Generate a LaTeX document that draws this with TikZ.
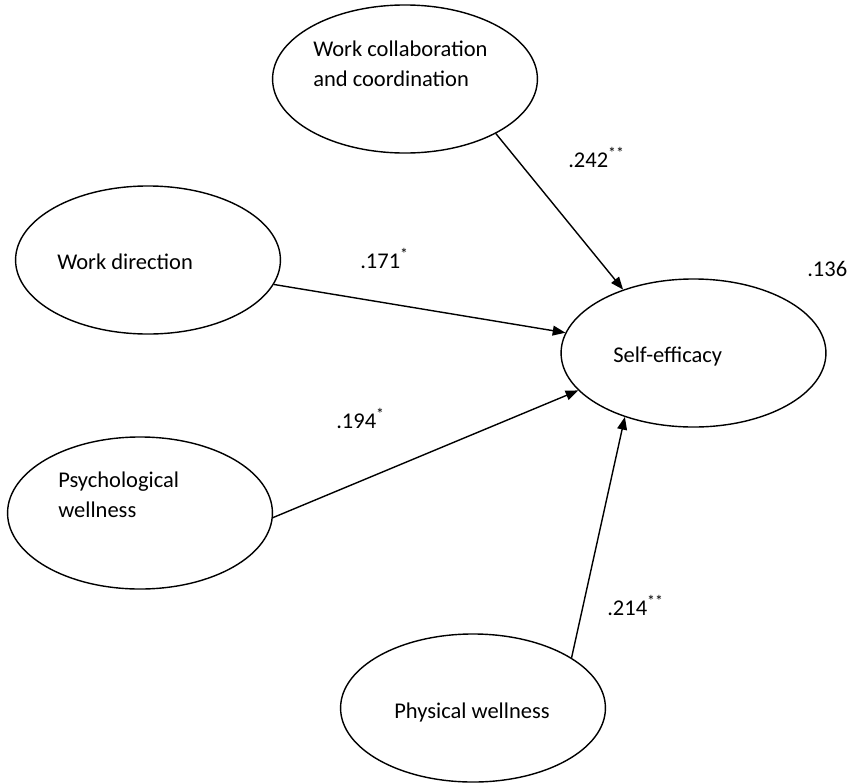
\documentclass[tikz,border=0pt]{standalone}
\usepackage{fontspec}
\setmainfont{Carlito}
\usetikzlibrary{shapes.geometric,arrows.meta}

\begin{document}
\begin{tikzpicture}[x=0.025cm,y=-0.025cm,
    var/.style={ellipse,draw,line width=1pt,minimum width=6.62cm,minimum height=3.7cm,inner sep=0pt},
    txt/.style={anchor=base west,inner sep=0pt,align=left,font=\fontsize{16}{21.3}\selectfont},
    coef/.style={anchor=base west,inner sep=0pt,font=\fontsize{16}{21.3}\selectfont},
    link/.style={line width=1pt,-{Triangle[length=9pt,width=7pt]}}]
      \useasboundingbox (0,0) rectangle (848,783);

      \node[var] (wc) at (405,79) {};
      \node[var] (wd) at (148,260) {};
      \node[var] (se) at (693.5,353) {};
      \node[var,minimum height=3.8cm] (ps) at (140,513) {};
      \node[var] (pw) at (473,708) {};

      % base of a two-line node sits on its last line
      \node[txt] (wctext) at (313,86) {Work collaboration\\and coordination};
      \node[txt] (wdtext) at (57,269) {Work direction};
      \node[txt] (setext) at (613,362) {Self-efficacy};
      \node[txt] (pstext) at (58,517) {Psychological\\wellness};
      \node[txt] (pwtext) at (394,718) {Physical wellness};

      \node[coef] (c242) at (568,167) {.242\textsuperscript{**}};
      \node[coef] (c171) at (360,268) {.171\textsuperscript{*}};
      \node[coef] (c136) at (807,276) {.136};
      \node[coef] (c194) at (336,428) {.194\textsuperscript{*}};
      \node[coef] (c214) at (607,615) {.214\textsuperscript{**}};

      \draw[link] (wc.-31.4) -- (se.138.4);
      \draw[link] (wd.-11.75) -- (se.171.9);
      \draw[link] (ps.-2.6) -- (se.-162);
      \draw[link] (pw.27.8) -- (se.-137.7);
    \end{tikzpicture}
\end{document}
